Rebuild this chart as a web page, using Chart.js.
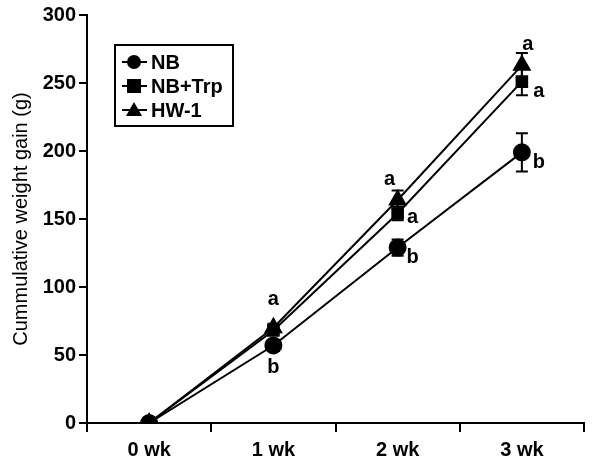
<!DOCTYPE html>
<html>
<head>
<meta charset="utf-8">
<script src="https://cdn.jsdelivr.net/npm/chart.js@4/dist/chart.umd.min.js"></script>
<style>
  body { margin: 0; background: #fff; }
  #wrap { width: 595px; height: 466px; }
</style>
</head>
<body>
<div id="wrap"><canvas id="chart"></canvas></div>
<script>
const weeks = ['0 wk', '1 wk', '2 wk', '3 wk'];
const nb = [0, 57, 129, 199];
const nbErr = [0, 4, 6, 14];
const nbTrp = [0, 68, 154, 251];
const nbTrpErr = [0, 3, 5, 10];
const hw1 = [0, 70, 164, 263];
const hw1Err = [0, 3, 7, 9];
const yTicks = [0, 50, 100, 150, 200, 250, 300];

// significance letters: [series, week, letter]
const letters = [
  [2, 1, 'a'], [0, 1, 'b'],
  [2, 2, 'a'], [1, 2, 'a'], [0, 2, 'b'],
  [2, 3, 'a'], [1, 3, 'a'], [0, 3, 'b']
];
// offsets for each letter in px, same order
const letterPos = [
  [0, -28], [0, 22],
  [-8, -20], [15, 4], [15, 10],
  [6, -21], [17, 10], [17, 10]
];

const errs = [nbErr, nbTrpErr, hw1Err];
const fam = '"Liberation Sans", Arial, sans-serif';

const errorBars = {
  id: 'errorBars',
  afterDatasetsDraw(chart) {
    const ctx = chart.ctx;
    const y = chart.scales.y;
    ctx.save();
    ctx.strokeStyle = '#000';
    ctx.lineWidth = 2;
    chart.data.datasets.forEach((ds, i) => {
      const meta = chart.getDatasetMeta(i);
      meta.data.forEach((pt, j) => {
        const e = errs[i][j];
        if (!e) return;
        const v = ds.data[j];
        const top = y.getPixelForValue(v + e);
        const bot = y.getPixelForValue(v - e);
        ctx.beginPath();
        ctx.moveTo(pt.x, top); ctx.lineTo(pt.x, bot);
        ctx.moveTo(pt.x - 6, top); ctx.lineTo(pt.x + 6, top);
        ctx.moveTo(pt.x - 6, bot); ctx.lineTo(pt.x + 6, bot);
        ctx.stroke();
      });
    });
    ctx.fillStyle = '#000';
    ctx.font = 'bold 20px ' + fam;
    ctx.textAlign = 'center';
    ctx.textBaseline = 'middle';
    letters.forEach((l, k) => {
      const pt = chart.getDatasetMeta(l[0]).data[l[1]];
      ctx.fillText(l[2], pt.x + letterPos[k][0], pt.y + letterPos[k][1]);
    });
    ctx.restore();
  }
};

const boxLegend = {
  id: 'boxLegend',
  afterDraw(chart) {
    const ctx = chart.ctx;
    ctx.save();
    ctx.strokeStyle = '#000';
    ctx.lineWidth = 2;
    ctx.strokeRect(115, 45, 118, 81);
    ctx.fillStyle = '#000';
    ctx.font = 'bold 20px ' + fam;
    ctx.textBaseline = 'middle';
    const names = ['NB', 'NB+Trp', 'HW-1'];
    names.forEach((n, i) => {
      const cy = 62 + i * 24;
      ctx.beginPath();
      ctx.moveTo(122, cy); ctx.lineTo(147, cy);
      ctx.stroke();
      ctx.beginPath();
      if (i === 0) {
        ctx.arc(134, cy, 7, 0, Math.PI * 2);
      } else if (i === 1) {
        ctx.rect(127, cy - 7, 14, 14);
      } else {
        ctx.moveTo(134, cy - 8); ctx.lineTo(142, cy + 6); ctx.lineTo(126, cy + 6); ctx.closePath();
      }
      ctx.fill();
      ctx.fillText(n, 151, cy + 1);
    });
    ctx.restore();
  }
};

const font = { family: fam, size: 20, weight: 'bold' };

new Chart(document.getElementById('chart'), {
  type: 'line',
  data: {
    labels: weeks,
    datasets: [
      { label: 'NB', data: nb, pointStyle: 'circle', pointRadius: 8 },
      { label: 'NB+Trp', data: nbTrp, pointStyle: 'rect', pointRadius: 7.5 },
      { label: 'HW-1', data: hw1, pointStyle: 'triangle', pointRadius: 9 }
    ].map(d => Object.assign(d, {
      borderColor: '#000', backgroundColor: '#000', borderWidth: 2,
      pointBackgroundColor: '#000', pointBorderColor: '#000', tension: 0
    }))
  },
  options: {
    responsive: true,
    maintainAspectRatio: false,
    animation: false,
    layout: { padding: { top: 15, right: 0, left: 0, bottom: 0 } },
    plugins: { legend: { display: false }, tooltip: { enabled: false } },
    scales: {
      x: {
        offset: true,
        grid: { offset: true, drawOnChartArea: false, drawTicks: true, tickLength: 9, color: '#000', lineWidth: 2 },
        border: { display: true, color: '#000', width: 2 },
        ticks: { color: '#000', font: font, padding: 6 },
        afterFit(s) { s.height = 43; }
      },
      y: {
        min: 0, max: 300,
        afterBuildTicks(s) { s.ticks = yTicks.map(v => ({ value: v })); },
        grid: { drawOnChartArea: false, drawTicks: true, tickLength: 8, color: '#000', lineWidth: 2 },
        border: { display: true, color: '#000', width: 2 },
        ticks: { color: '#000', font: font, padding: 3 },
        title: { display: true, text: 'Cummulative weight gain (g)', color: '#000',
          font: { family: fam, size: 20 }, padding: { top: 9, bottom: 0 } },
        afterFit(s) { s.width = 87; }
      }
    }
  },
  plugins: [errorBars, boxLegend]
});
</script>
</body>
</html>
